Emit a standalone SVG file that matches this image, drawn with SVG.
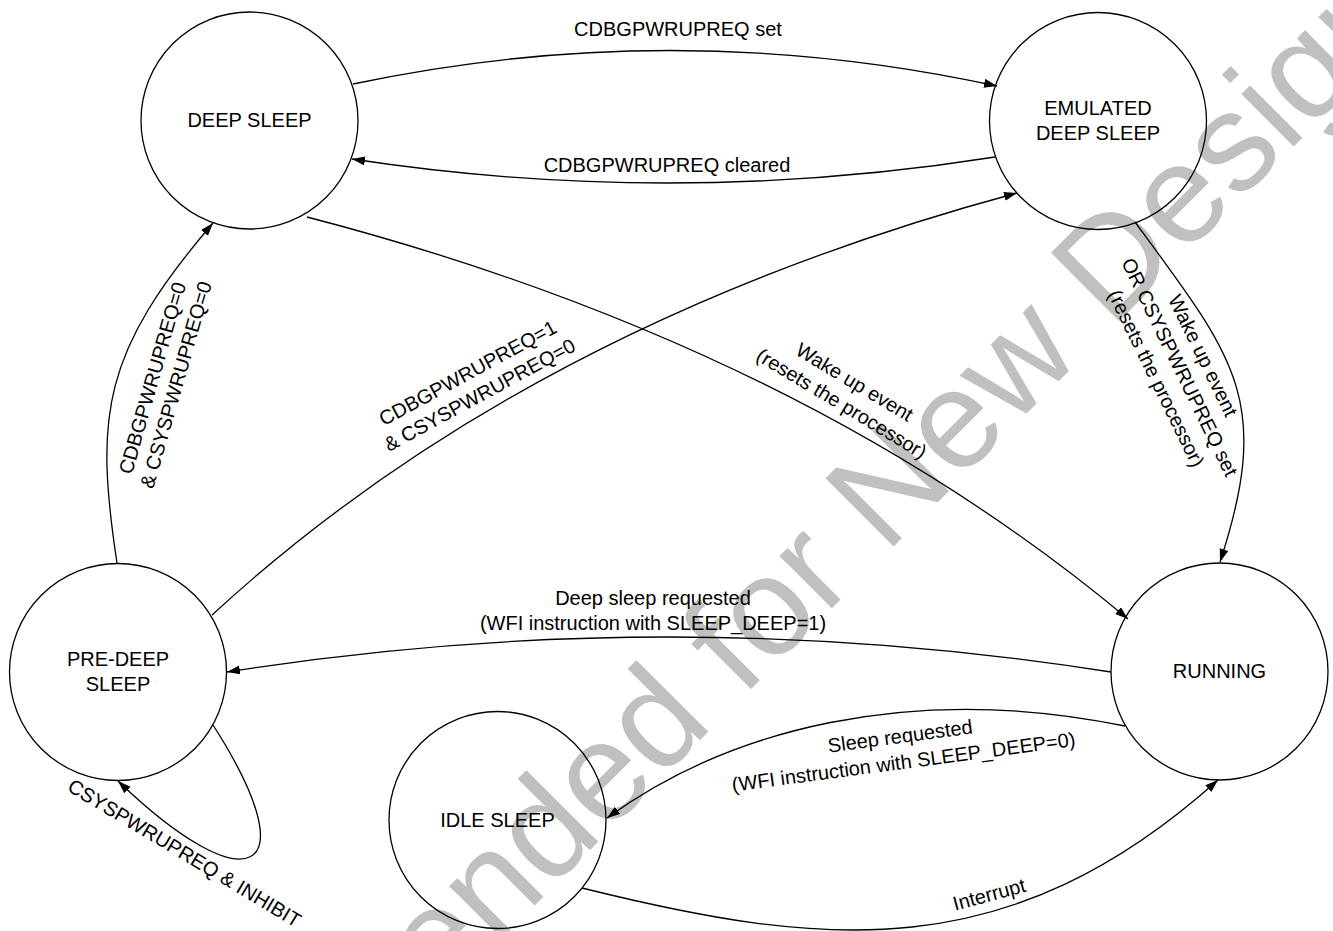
<svg xmlns="http://www.w3.org/2000/svg" width="1333" height="931" viewBox="0 0 1333 931">
<style>
text{font-family:"Liberation Sans",Arial,sans-serif;font-size:20px;fill:#000}
.node circle{fill:none;stroke:#000;stroke-width:1.3}
.node text{text-anchor:middle}
.conn path{fill:none;stroke:#000;stroke-width:1.3;marker-end:url(#arr)}
.lbl{text-anchor:middle}
.wm{font-size:140px;fill:#c0c0c0}
</style>
<defs>
<marker id="arr" markerUnits="userSpaceOnUse" markerWidth="14" markerHeight="10" refX="13" refY="4.5" orient="auto">
<path d="M0,0 L13,4.5 L0,9 z" fill="#000"/>
</marker>
</defs>
<rect width="1333" height="931" fill="#fff"/>
<text class="wm" transform="translate(-138,1578) rotate(-45)">Not Recommended for New Designs</text>

<g id="deep-sleep" class="node"><circle cx="249.5" cy="120.5" r="108.5"/><text x="249.5" y="127">DEEP SLEEP</text></g>
<g id="emulated-deep-sleep" class="node"><circle cx="1098" cy="121" r="108.5"/><text x="1098" y="115">EMULATED</text><text x="1098" y="139.5">DEEP SLEEP</text></g>
<g id="pre-deep-sleep" class="node"><circle cx="118" cy="672" r="108.5"/><text x="118" y="666">PRE-DEEP</text><text x="118" y="690.5">SLEEP</text></g>
<g id="idle-sleep" class="node"><circle cx="497.5" cy="820" r="108.5"/><text x="497.5" y="826.5">IDLE SLEEP</text></g>
<g id="running" class="node"><circle cx="1219.5" cy="671.5" r="108.5"/><text x="1219.5" y="677.5">RUNNING</text></g>

<g id="connectors" class="conn">
<path d="M353,84 Q675,16 997,86"/>
<path d="M995,157 Q673,208 352,159"/>
<path d="M307,217 Q800,345 1128,619"/>
<path d="M212,615 Q527,325 1017,193"/>
<path d="M117,563 C94.5,415 102.5,352 213,223"/>
<path d="M1135,222 C1235,358 1273,400 1220,562"/>
<path d="M1111,672 Q669,602 227,672"/>
<path d="M1125,726 C909,682 728,730 607,818"/>
<path d="M582,888 C824,948 1008,968 1218,780"/>
<path d="M213,725 C310,876 248,906 118,781"/>
</g>

<g id="labels">
<text class="lbl" x="678" y="36">CDBGPWRUPREQ set</text>
<text class="lbl" x="667" y="172">CDBGPWRUPREQ cleared</text>
<text class="lbl" transform="translate(851,388) rotate(31)"><tspan x="0" y="0">Wake up event</tspan><tspan x="0" y="25">(resets the processor)</tspan></text>
<text class="lbl" transform="translate(471,379) rotate(-28.5)"><tspan x="0" y="0">CDBGPWRUPREQ=1</tspan><tspan x="0" y="25">&amp; CSYSPWRUPREQ=0</tspan></text>
<text class="lbl" transform="translate(159,380) rotate(-74)"><tspan x="0" y="0">CDBGPWRUPREQ=0</tspan><tspan x="0" y="24.5">&amp; CSYSPWRUPREQ=0</tspan></text>
<text class="lbl" transform="translate(1173.5,370) rotate(64)"><tspan x="0" y="-26">Wake up event</tspan><tspan x="0" y="0">OR CSYSPWRUPREQ set</tspan><tspan x="0" y="26">(resets the processor)</tspan></text>
<text class="lbl" x="653" y="605">Deep sleep requested</text>
<text class="lbl" x="653" y="630">(WFI instruction with SLEEP_DEEP=1)</text>
<text class="lbl" transform="translate(901,743) rotate(-7.6)"><tspan x="0" y="0">Sleep requested</tspan><tspan x="0" y="26">(WFI instruction with SLEEP_DEEP=0)</tspan></text>
<text class="lbl" transform="translate(991,901) rotate(-15)">Interrupt</text>
<text class="lbl" transform="translate(181,859) rotate(31)">CSYSPWRUPREQ &amp; INHIBIT</text>
</g>
</svg>
